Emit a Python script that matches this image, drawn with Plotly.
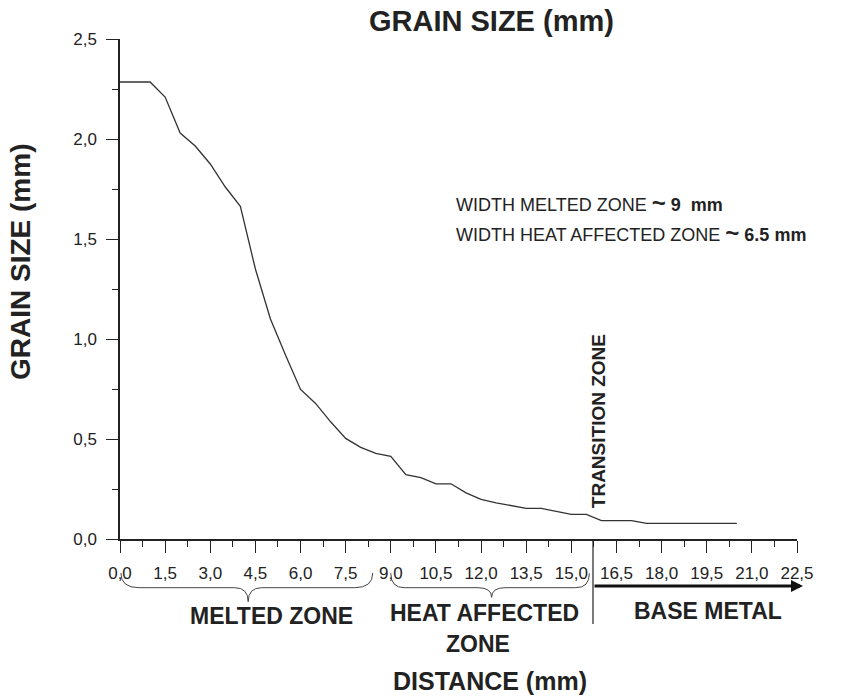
import plotly.graph_objects as go

# ---- data ----
distance_mm = [0.0, 1.0, 1.5, 2.0, 2.5, 3.0, 3.5, 4.0, 4.5, 5.0, 5.5, 6.0, 6.5, 7.0,
               7.5, 8.0, 8.5, 9.0, 9.5, 10.0, 10.5, 11.0, 11.5, 12.0, 12.5, 13.0,
               13.5, 14.0, 14.5, 15.0, 15.5, 16.0, 16.5, 17.0, 17.5, 18.0, 18.5,
               19.0, 19.5, 20.0, 20.5]
grain_size_mm = [2.285, 2.285, 2.21, 2.03, 1.965, 1.875, 1.76, 1.663, 1.35, 1.10,
                 0.92, 0.748, 0.678, 0.586, 0.503, 0.458, 0.428, 0.413, 0.322,
                 0.307, 0.276, 0.276, 0.231, 0.198, 0.181, 0.166, 0.153, 0.153,
                 0.138, 0.123, 0.123, 0.092, 0.092, 0.092, 0.078, 0.078, 0.078,
                 0.078, 0.078, 0.078, 0.078]

x_tick_vals = [0.0, 1.5, 3.0, 4.5, 6.0, 7.5, 9.0, 10.5, 12.0, 13.5, 15.0, 16.5,
               18.0, 19.5, 21.0, 22.5]
x_tick_text = ["0,0", "1,5", "3,0", "4,5", "6,0", "7,5", "9,0", "10,5", "12,0",
               "13,5", "15,0", "16,5", "18,0", "19,5", "21,0", "22,5"]
y_tick_vals = [0.0, 0.5, 1.0, 1.5, 2.0, 2.5]
y_tick_text = ["0,0", "0,5", "1,0", "1,5", "2,0", "2,5"]

melted_zone = [0.0, 8.4]        # mm, extent of brace
haz_zone = [9.0, 15.6]          # mm
transition_x = 15.72            # mm

FONT = "Liberation Sans, Arial, Helvetica, sans-serif"
INK = "#222222"

# plot area geometry (pixels)
L, R, T, B = 120, 46, 39, 161
W, H = 843, 700
PW, PH = W - L - R, H - T - B


def px(xp):
    return (xp - L) / PW


def py(yp):
    return (T + PH - yp) / PH


fig = go.Figure()
fig.add_trace(go.Scatter(x=distance_mm, y=grain_size_mm, mode="lines",
                         line=dict(color="#333333", width=1.3),
                         showlegend=False, hoverinfo="x+y"))


def brace(xl, xtip, xr, y_end, y_h, y_tip, sw, rx_end=None):
    rx_end = xr if rx_end is None else rx_end
    return (f"M {xl},{y_end} Q {xl},{y_h} {xl + sw},{y_h} "
            f"L {xtip - 0.45},{y_h} Q {xtip},{y_h} {xtip},{y_tip} "
            f"Q {xtip},{y_h} {xtip + 0.45},{y_h} "
            f"L {xr - sw},{y_h} Q {rx_end},{y_h} {rx_end},{y_end}")


shapes = [
    dict(type="path", xref="x", yref="paper",
         path=brace(melted_zone[0] + 0.03, 4.26, melted_zone[1], py(573), py(587.7), py(601.7), 0.6),
         line=dict(color="#444444", width=1)),
    dict(type="path", xref="x", yref="paper",
         path=brace(haz_zone[0], 12.35, haz_zone[1], py(573.3), py(587.7), py(597.3), 0.45),
         line=dict(color="#444444", width=1)),
    dict(type="line", xref="x", yref="paper", x0=transition_x, x1=transition_x,
         y0=0, y1=py(624), line=dict(color=INK, width=1.2)),
]


def label(text, xp, yp, size, angle=0, xanchor="center"):
    return dict(text=text, x=px(xp), y=py(yp), xref="paper", yref="paper",
                xanchor=xanchor, yanchor="middle", showarrow=False,
                textangle=angle, borderpad=0,
                font=dict(size=size, color=INK, family=FONT))


TILDE = "<span style='font-size:24px'>~</span>"

annotations = [
    label("<b>GRAIN SIZE (mm)</b>", 491, 21, 29),
    label("<b>GRAIN SIZE (mm)</b>", 20, 262, 28, angle=-90),
    label("<b>MELTED ZONE</b>", 271.7, 616, 23),
    label("<b>HEAT AFFECTED</b>", 484.7, 613, 23),
    label("<b>ZONE</b>", 477.5, 644, 23),
    label("<b>BASE METAL</b>", 708.3, 611, 23),
    label("<b>DISTANCE (mm)</b>", 490, 681, 25),
    label("<b>TRANSITION ZONE</b>", 598.5, 421.7, 19, angle=-90),
    label(f"WIDTH MELTED ZONE <b>{TILDE} 9  mm</b>", 455, 203, 18, xanchor="left"),
    label(f"WIDTH HEAT AFFECTED ZONE <b>{TILDE} 6.5 mm</b>", 455, 232.5, 18, xanchor="left"),
    dict(text="", x=px(803), y=py(586), xref="paper", yref="paper",
         ax=-(803 - 593), ay=0, axref="pixel", ayref="pixel",
         showarrow=True, arrowhead=2, arrowsize=0.75, arrowwidth=3.2,
         arrowcolor="#111111", standoff=0, startstandoff=0),
]

axis_common = dict(showline=True, linecolor=INK, linewidth=1.5, ticks="outside",
                   ticklen=12, tickwidth=1.3, tickcolor=INK, showgrid=False,
                   zeroline=False, ticklabelstandoff=6,
                   tickfont=dict(size=17, color=INK, family=FONT))

fig.update_layout(
    width=W, height=H,
    margin=dict(l=L, r=R, t=T, b=B),
    plot_bgcolor="white", paper_bgcolor="white",
    font=dict(family=FONT, color=INK),
    showlegend=False,
    xaxis=dict(range=[0, 22.5], tickmode="array", tickvals=x_tick_vals,
               ticktext=x_tick_text,
               minor=dict(dtick=0.75, tick0=0, ticks="outside", ticklen=6,
                          tickwidth=1.3, tickcolor=INK),
               **axis_common),
    yaxis=dict(range=[0, 2.5], tickmode="array", tickvals=y_tick_vals,
               ticktext=y_tick_text,
               minor=dict(dtick=0.25, tick0=0, ticks="outside", ticklen=6,
                          tickwidth=1.3, tickcolor=INK),
               **axis_common),
    shapes=shapes,
    annotations=annotations,
)

fig.write_html("out.html", config={"displayModeBar": False},
               post_script="document.body.style.margin='0';document.body.style.padding='0';")
